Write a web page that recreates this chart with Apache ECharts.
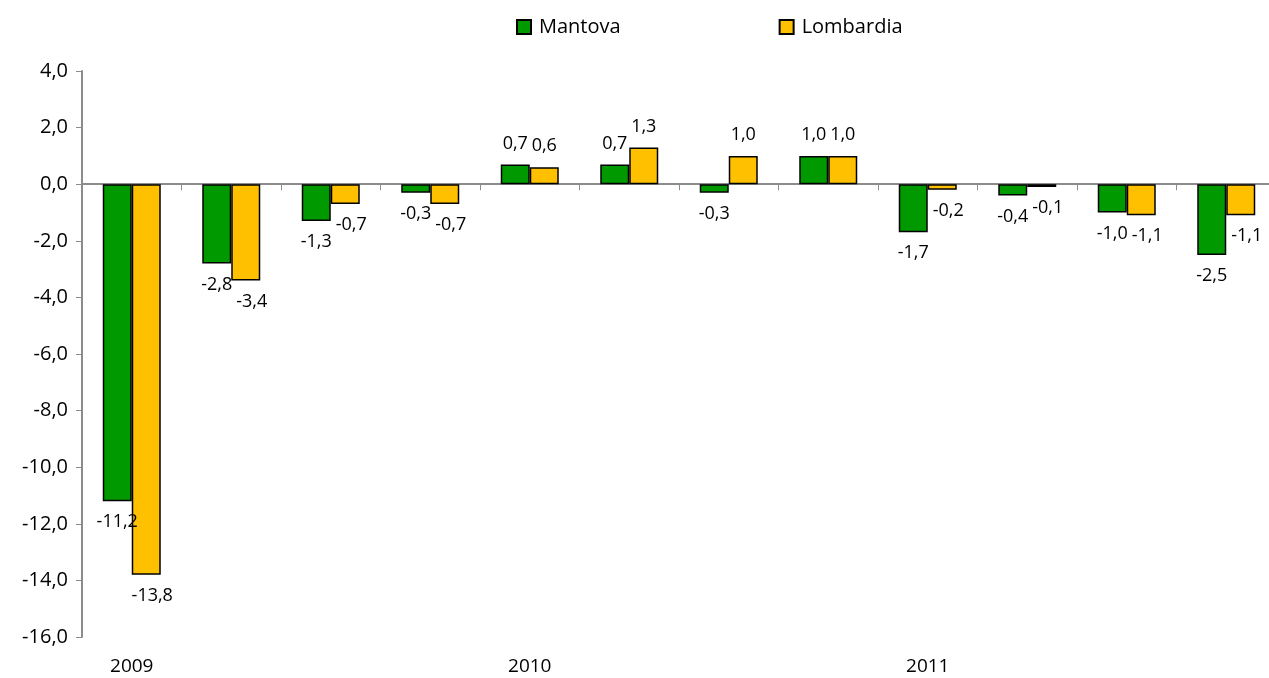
<!DOCTYPE html>
<html lang="it">
<head>
    <meta charset="UTF-8">
    <title>Mantova - Lombardia</title>
    <script src="https://cdn.jsdelivr.net/npm/echarts@6/dist/echarts.min.js"></script>
    <style>
        html, body { margin: 0; padding: 0; background: #fff; }
        #box { width: 1269px; height: 678px; }
    </style>
</head>
<body>
<div id="box"></div>
<script>
    // trimestri (12 periodi)
    var quarters = ['I-2009', 'II-2009', 'III-2009', 'IV-2009',
        'I-2010', 'II-2010', 'III-2010', 'IV-2010',
        'I-2011', 'II-2011', 'III-2011', 'IV-2011'];
    // etichette asse x
    var yearLabels = ['2009', '', '', '', '2010', '', '', '', '2011', '', '', ''];
    var mantova = [-11.2, -2.8, -1.3, -0.3, 0.7, 0.7, -0.3, 1.0, -1.7, -0.4, -1.0, -2.5];
    var lombardia = [-13.8, -3.4, -0.7, -0.7, 0.6, 1.3, 1.0, 1.0, -0.2, -0.1, -1.1, -1.1];

    var font = "'Open Sans', sans-serif";

    function fmt(v) {
        return v.toFixed(1).replace('.', ',');
    }

    // etichetta sopra o sotto a seconda del segno
    function toData(arr, negShift) {
        return arr.map(function (v) {
            return {
                value: v,
                label: v >= 0
                    ? { position: 'top' }
                    : { position: 'bottom', offset: [negShift, 0] }
            };
        });
    }

    var myChart = echarts.init(document.getElementById('box'));

    var option = {
        animation: false,
        textStyle: { fontFamily: font },
        legend: {
            top: 12,
            left: 511,
            itemGap: 158,
            itemWidth: 14,
            itemHeight: 14,
            icon: 'rect',
            textStyle: { fontSize: 20, color: '#000', fontFamily: font, padding: [0, 0, 0, 3] },
            data: ['Mantova', 'Lombardia']
        },
        grid: {
            left: 82,
            top: 71,
            width: 1194,
            height: 566,
            outerBoundsMode: 'none',
            containLabel: false
        },
        xAxis: [
            {
                type: 'category',
                position: 'bottom',
                data: quarters,
                axisLine: { onZero: true, lineStyle: { color: '#8c8c8c', width: 2 } },
                axisTick: { show: true, length: 6, lineStyle: { color: '#8c8c8c', width: 1 } },
                axisLabel: { show: false }
            },
            {
                type: 'category',
                position: 'bottom',
                data: quarters,
                axisLine: { show: false, onZero: false },
                axisTick: { show: false },
                axisLabel: {
                    interval: 0,
                    margin: 20,
                    fontSize: 19,
                    color: '#000',
                    fontFamily: font,
                    formatter: function (val, i) {
                        return yearLabels[i];
                    }
                }
            }
        ],
        yAxis: {
            type: 'value',
            min: -16,
            max: 4,
            interval: 2,
            splitLine: { show: false },
            axisLine: { show: true, lineStyle: { color: '#8c8c8c', width: 2 } },
            axisTick: { show: true, length: 6, lineStyle: { color: '#8c8c8c' } },
            axisLabel: {
                fontSize: 20,
                color: '#000',
                margin: 14,
                fontFamily: font,
                formatter: function (v) { return fmt(v); }
            }
        },
        series: [
            {
                name: 'Mantova',
                type: 'bar',
                barWidth: 29,
                barGap: '0%',
                itemStyle: { color: '#009900', borderColor: '#000', borderWidth: 1.5 },
                label: {
                    show: true,
                    distance: 12,
                    fontSize: 18,
                    color: '#000',
                    fontFamily: font,
                    formatter: function (p) { return fmt(p.value); }
                },
                data: toData(mantova, 0)
            },
            {
                name: 'Lombardia',
                type: 'bar',
                barWidth: 29,
                barGap: '0%',
                itemStyle: { color: '#FFC000', borderColor: '#000', borderWidth: 1.5 },
                label: {
                    show: true,
                    distance: 12,
                    fontSize: 18,
                    color: '#000',
                    fontFamily: font,
                    formatter: function (p) { return fmt(p.value); }
                },
                data: toData(lombardia, 6)
            }
        ]
    };
    myChart.setOption(option);
</script>
</body>
</html>
